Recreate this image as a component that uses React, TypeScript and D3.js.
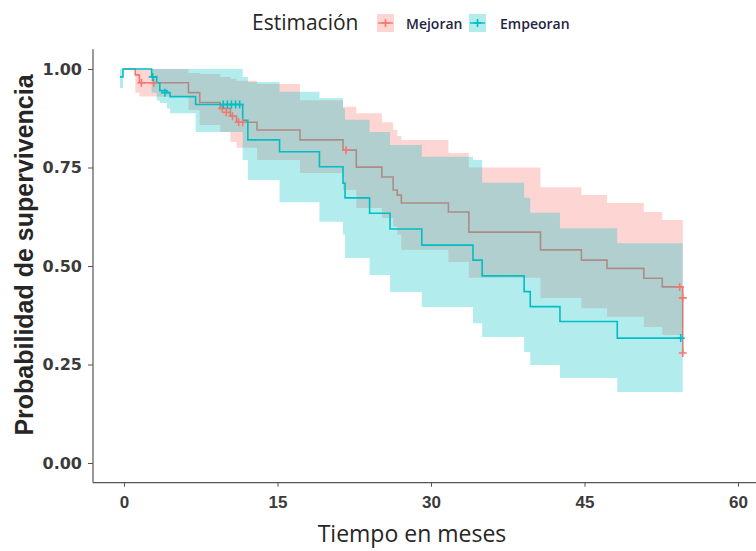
import React, { useEffect, useRef } from 'react';
import * as d3 from 'd3';

const W = 756;
const H = 551;

// Mejoran (rojo): tiempos de evento, supervivencia y banda de confianza
const mejoranTime = [0, 1.1, 1.5, 6.3, 7.4, 9.4, 10.4, 11.0, 13.0, 17.2, 21.4, 22.7, 25.2, 26.3, 26.7, 27.1, 31.7, 33.7, 40.7, 44.7, 47.2, 50.8, 52.6, 54.6];
const mejoranSurv = [1, 0.985, 0.965, 0.94, 0.915, 0.9, 0.88, 0.865, 0.845, 0.82, 0.794, 0.751, 0.726, 0.693, 0.68, 0.66, 0.637, 0.586, 0.541, 0.515, 0.494, 0.469, 0.447, 0.279];
const mejoranLower = [1, 0.94, 0.93, 0.896, 0.858, 0.84, 0.815, 0.8, 0.769, 0.736, 0.693, 0.647, 0.622, 0.6, 0.58, 0.541, 0.51, 0.47, 0.419, 0.393, 0.371, 0.345, 0.325, 0.325];
const mejoranUpper = [1, 1, 1, 0.99, 0.987, 0.98, 0.975, 0.97, 0.962, 0.921, 0.904, 0.888, 0.865, 0.845, 0.83, 0.82, 0.787, 0.75, 0.7, 0.68, 0.66, 0.637, 0.617, 0.617];
const mejoranCensorTime = [1.7, 2.9, 9.6, 10.0, 10.6, 11.2, 11.6, 21.7, 54.3, 54.6, 54.6];
const mejoranCensorSurv = [0.965, 0.965, 0.9, 0.89, 0.88, 0.865, 0.865, 0.794, 0.447, 0.419, 0.279];

// Empeoran (turquesa)
const empeoranTime = [-0.4, -0.1, 2.7, 3.2, 3.5, 4.2, 4.5, 7.0, 11.6, 12.1, 15.2, 19.1, 21.4, 21.6, 24.0, 26.0, 29.1, 34.1, 35.0, 39.1, 39.7, 42.6, 48.2, 54.6];
const empeoranSurv = [0.98, 1, 0.98, 0.965, 0.945, 0.94, 0.93, 0.91, 0.87, 0.82, 0.79, 0.752, 0.71, 0.673, 0.634, 0.594, 0.553, 0.515, 0.475, 0.435, 0.397, 0.359, 0.317, 0.317];
const empeoranLower = [0.952, 1, 0.94, 0.92, 0.914, 0.9, 0.888, 0.84, 0.769, 0.718, 0.662, 0.612, 0.58, 0.52, 0.477, 0.434, 0.396, 0.355, 0.32, 0.282, 0.249, 0.216, 0.18, 0.18];
const empeoranUpper = [1, 1, 1, 1, 1, 1, 1, 1, 0.98, 0.967, 0.942, 0.926, 0.9, 0.871, 0.84, 0.807, 0.777, 0.769, 0.711, 0.673, 0.635, 0.596, 0.558, 0.558];
const empeoranCensorTime = [2.8, 4.0, 9.7, 10.1, 10.5, 10.9, 11.3, 54.4];
const empeoranCensorSurv = [0.98, 0.94, 0.91, 0.91, 0.91, 0.91, 0.91, 0.317];

const xTicks = [0, 15, 30, 45, 60];
const yTicks = [0, 0.25, 0.5, 0.75, 1];
const legendLabels = ['Mejoran', 'Empeoran'];
const colors = ['#F8766D', '#00BFC4'];

type Row = { t: number; s: number; lo: number; hi: number };

const rows = (t: number[], s: number[], lo: number[], hi: number[]): Row[] =>
    t.map((d, i) => ({ t: d, s: s[i], lo: lo[i], hi: hi[i] }));

const App = () => {
    const ref = useRef<SVGSVGElement | null>(null);

    useEffect(() => {
        const svg = d3.select(ref.current);
        svg.selectAll('*').remove();

        const x = d3.scaleLinear().domain([0, 60]).range([124, 738]);
        const y = d3.scaleLinear().domain([0, 1]).range([463, 69]);

        const series = [
            { color: colors[0], data: rows(mejoranTime, mejoranSurv, mejoranLower, mejoranUpper), ct: mejoranCensorTime, cs: mejoranCensorSurv },
            { color: colors[1], data: rows(empeoranTime, empeoranSurv, empeoranLower, empeoranUpper), ct: empeoranCensorTime, cs: empeoranCensorSurv },
        ];

        const area = d3.area<Row>()
            .x(d => x(d.t))
            .y0(d => y(d.lo))
            .y1(d => y(d.hi))
            .curve(d3.curveStepAfter);

        const line = d3.line<Row>()
            .x(d => x(d.t))
            .y(d => y(d.s))
            .curve(d3.curveStepAfter);

        const g = svg.append('g');
        series.forEach(sr => {
            g.append('path').attr('d', area(sr.data)).attr('fill', sr.color).attr('fill-opacity', 0.3);
            g.append('path').attr('d', line(sr.data)).attr('fill', 'none')
                .attr('stroke', sr.color).attr('stroke-width', 1.6);
        });

        // censor marks on top
        series.forEach(sr => {
            g.selectAll(null)
                .data(sr.ct.map((t, i) => [t, sr.cs[i]]))
                .enter()
                .append('path')
                .attr('d', 'M-4,0H4M0,-4V4')
                .attr('transform', d => `translate(${x(d[0])},${y(d[1])})`)
                .attr('stroke', sr.color)
                .attr('stroke-width', 1.6)
                .attr('fill', 'none');
        });

        // axis lines
        const x0 = x(-3.03);
        svg.append('line').attr('x1', x0).attr('x2', x0).attr('y1', y(1.05)).attr('y2', y(-0.05))
            .attr('stroke', '#555').attr('stroke-width', 1.2);
        svg.append('line').attr('x1', x0).attr('x2', W).attr('y1', y(-0.05)).attr('y2', y(-0.05))
            .attr('stroke', '#555').attr('stroke-width', 1.2);

        const gy = svg.append('g').attr('transform', `translate(${x0},0)`)
            .call(d3.axisLeft(y).tickValues(yTicks).tickFormat(d3.format('.2f')).tickSize(5).tickPadding(6));
        gy.select('.domain').remove();
        gy.selectAll('.tick line').attr('stroke', '#555');
        gy.selectAll('.tick text')
            .attr('font-family', 'DejaVu Sans')
            .attr('font-weight', 'bold')
            .attr('font-size', 16)
            .attr('fill', '#3b3b3b');

        const gx = svg.append('g').attr('transform', `translate(0,${y(-0.05)})`)
            .call(d3.axisBottom(x).tickValues(xTicks).tickFormat(d3.format('d')).tickSize(4).tickPadding(9));
        gx.select('.domain').remove();
        gx.selectAll('.tick line').attr('stroke', '#555');
        gx.selectAll('.tick text')
            .attr('font-family', 'Liberation Sans, Arial, sans-serif')
            .attr('font-weight', 'bold')
            .attr('font-size', 17)
            .attr('fill', '#3b3b3b');

        // axis titles
        svg.append('text')
            .attr('transform', `translate(33,${255}) rotate(-90)`)
            .attr('text-anchor', 'middle')
            .attr('font-family', 'Liberation Sans, Arial, sans-serif')
            .attr('font-weight', 'bold')
            .attr('font-size', 25)
            .attr('fill', '#262626')
            .text('Probabilidad de supervivencia');

        svg.append('text')
            .attr('x', 412).attr('y', 542)
            .attr('text-anchor', 'middle')
            .attr('font-family', 'Open Sans, sans-serif')
            .attr('font-size', 23)
            .attr('fill', '#262626')
            .text('Tiempo en meses');

        // legend
        svg.append('text')
            .attr('x', 252).attr('y', 30)
            .attr('font-family', 'Open Sans, sans-serif')
            .attr('font-size', 21)
            .attr('fill', '#262626')
            .text('Estimación');

        const keyX = [377, 469];
        const labelX = [406, 500];
        legendLabels.forEach((lab, i) => {
            const k = svg.append('g').attr('transform', `translate(${keyX[i]},14)`);
            k.append('rect').attr('width', 17).attr('height', 18)
                .attr('fill', colors[i]).attr('fill-opacity', 0.3);
            k.append('line').attr('x1', 1).attr('x2', 16).attr('y1', 9).attr('y2', 9)
                .attr('stroke', colors[i]).attr('stroke-width', 1.4);
            k.append('path').attr('d', 'M4.5,9H12.5M8.5,5V13')
                .attr('stroke', colors[i]).attr('stroke-width', 1.6);
            svg.append('text')
                .attr('x', labelX[i]).attr('y', 29)
                .attr('font-family', 'Open Sans, sans-serif')
                .attr('font-size', 14)
                .attr('font-weight', 600)
                .attr('fill', '#1f2440')
                .text(lab);
        });
    }, []);

    return (
        <svg ref={ref} width={W} height={H} style={{ display: 'block', position: 'absolute', left: 0, top: 0, background: '#fff' }} />
    );
};

export default App;
